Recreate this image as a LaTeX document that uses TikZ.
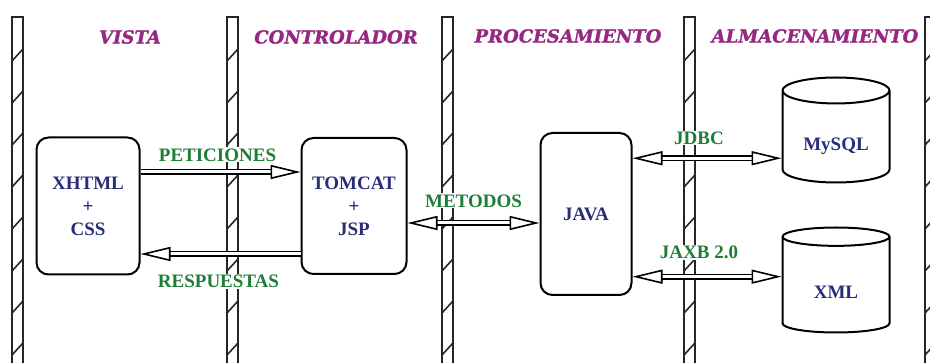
\documentclass[tikz,border=0pt]{standalone}
\usepackage{fontspec}
\setmainfont{Liberation Serif}
\newfontfamily\titulofont{DejaVu Serif}[FakeBold=1.5]
\usepackage{tikz}
\usetikzlibrary{positioning}
\usetikzlibrary{shapes.geometric}
\usetikzlibrary{arrows.meta}

\definecolor{morado}{RGB}{150,40,130}
\definecolor{azul}{RGB}{40,45,120}
\definecolor{verde}{RGB}{30,125,55}

\begin{document}
\begin{tikzpicture}[x=1pt, y=-1pt,
		    caja/.style={draw, rounded corners=12pt, line width=2pt, fill=white,
			   text=azul, align=center, font=\fontsize{19}{23}\selectfont\bfseries},
		    base/.style={draw, cylinder, shape border rotate=90, aspect=0.36,
			   line width=2pt, fill=white, minimum width=107pt, minimum height=105pt,
			   text=azul, font=\fontsize{19}{23}\selectfont\bfseries, anchor=shape center},
		    titulo/.style={text=morado, font=\titulofont\fontsize{18}{20}\selectfont\bfseries\itshape},
		    etiqueta/.style={text=verde, fill=white, inner sep=1pt,
			   font=\fontsize{19}{21}\selectfont\bfseries},
		    pilar/.style={line width=1.6pt, black!85},
		    flecha/.style={double, double distance=3pt, line width=1.6pt,
			   -{Triangle[open, length=30pt, width=14pt]}},
		    dflecha/.style={flecha,
			   {Triangle[open, length=30pt, width=14pt]}-{Triangle[open, length=30pt, width=14pt]}}]
 \useasboundingbox (0,0) rectangle (930,363);

 % columnas
 \foreach \px in {12,227,442,684,925} {
  \draw[pilar] (\px,363) -- (\px,17) -- (\px+11,17) -- (\px+11,363);
  \foreach \py in {55,97,...,349}
   \draw[pilar] (\px,\py+6) -- (\px+11,\py-6);
 }

 \node[titulo] (vista) at (130,37) {VISTA};
 \node[titulo] (controlador) at (336,37) {CONTROLADOR};
 \node[titulo] (procesamiento) at (568,36) {PROCESAMIENTO};
 \node[titulo] (almacenamiento) at (815,36) {ALMACENAMIENTO};

 \node[caja, minimum width=103pt, minimum height=137pt] (xhtml) at (88,206) {XHTML\\+\\CSS};
 \node[caja, minimum width=105pt, minimum height=136pt, right=160pt of xhtml] (tomcat) {TOMCAT\\+\\JSP};
 \node[caja, minimum width=91pt, minimum height=162pt, right=132pt of tomcat, yshift=-8pt] (java) {JAVA};
 \node[base] (mysql) at (836,130) {\raisebox{-5pt}[13pt][0pt]{MySQL}};
 \node[base] (xml) at (836,280) {\raisebox{-5pt}[13pt][0pt]{XML}};

 \draw[flecha] ([yshift=34pt]xhtml.east) -- ([yshift=34pt]xhtml.east -| tomcat.west)
	node[etiqueta, midway, above=9pt, xshift=-3pt] {PETICIONES};
 \draw[flecha] ([yshift=-48pt]tomcat.west) -- ([yshift=-48pt]tomcat.west -| xhtml.east)
	node[etiqueta, midway, below=19pt, xshift=-2pt] {RESPUESTAS};
 \draw[dflecha] ([yshift=-17pt]tomcat.east) -- ([yshift=-17pt]tomcat.east -| java.west)
	node[etiqueta, midway, above=14pt] {METODOS};
 \draw[dflecha] ([yshift=-19pt]mysql.west -| java.east) -- ([yshift=-19pt]mysql.west)
	node[etiqueta, midway, above=12pt, xshift=-8pt] {JDBC};
 \draw[dflecha] ([yshift=10pt]xml.west -| java.east) -- ([yshift=10pt]xml.west)
	node[etiqueta, midway, above=16pt, xshift=-8pt] {JAXB 2.0};
\end{tikzpicture}
\end{document}
